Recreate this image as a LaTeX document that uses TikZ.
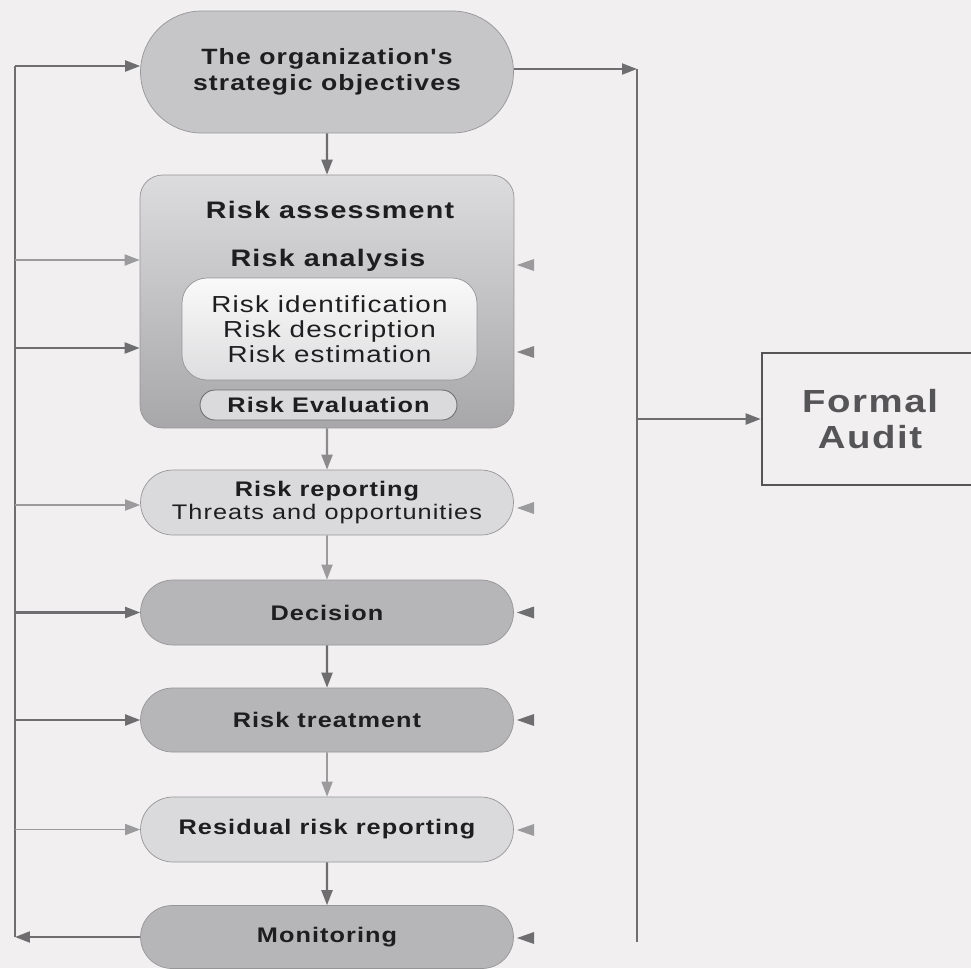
\documentclass[tikz,border=0pt]{standalone}
\usepackage{fontspec}
\setmainfont{Liberation Sans}[FakeStretch=1.2,LetterSpace=5,Ligatures=TeXOff]
\usetikzlibrary{arrows.meta,shapes.misc}
\definecolor{bg}{RGB}{241,239,240}
\definecolor{nodedark}{RGB}{182,181,183}
\definecolor{nodetop}{RGB}{198,197,199}
\definecolor{nodelight}{RGB}{218,217,219}
\definecolor{edgegray}{RGB}{150,150,152}
\definecolor{arrdark}{RGB}{110,110,112}
\definecolor{arrlight}{RGB}{155,155,157}
\definecolor{txt}{RGB}{30,30,32}
\definecolor{audittxt}{RGB}{85,85,87}
\begin{document}
\begin{tikzpicture}[x=0.02cm,y=-0.02cm,
  pill/.style={rounded rectangle, draw=edgegray, line width=0.4pt, minimum width=7.46cm,
    inner sep=0pt, text=txt, align=center, font=\bfseries\fontsize{12}{13.2}\selectfont},
  darkpill/.style={pill, fill=nodedark},
  lightpill/.style={pill, fill=nodelight},
  bigtext/.style={text=txt, font=\bfseries\fontsize{13.6}{15}\selectfont, inner sep=0pt},
  arrd/.style={draw=arrdark, line width=1.2pt, -{Triangle[length=3mm,width=2.2mm]}},
  arrl/.style={draw=arrlight, line width=1pt, -{Triangle[length=3mm,width=2.2mm]}},
  vline/.style={draw=arrdark, line width=1.2pt},
  lhead/.pic={\fill (0,0) -- (17,-6) -- (17,6) -- cycle;}
]
\clip (0,0) rectangle (971,968);
\fill[bg] (0,0) rectangle (971,968);

% main column
\node[pill, fill=nodetop, minimum height=2.44cm, font=\bfseries\fontsize{12.6}{14.7}\selectfont] (top) at (327,72)
  {The organization's\\strategic objectives};

\node[rounded corners=0.45cm, draw=edgegray, line width=0.4pt, top color=nodelight!95!white,
  bottom color=nodedark!92!black, minimum width=7.48cm, minimum height=5.06cm] (assess) at (327,301.5) {};
\node[bigtext] (atitle) at (330,210) {Risk assessment};
\node[bigtext] (aanal) at (328,260) {Risk analysis};
\node[rounded corners=0.5cm, draw=edgegray, line width=0.4pt, top color=white!85!nodelight,
  bottom color=nodelight!90!white, minimum width=5.9cm, minimum height=2.04cm, text=txt,
  align=center, font=\fontsize{13.2}{14.2}\selectfont] (inner) at (329.5,329)
  {Risk identification\\Risk description\\Risk estimation};
\node[rounded rectangle, draw=arrdark, line width=0.5pt, fill=nodelight, minimum width=5.14cm,
  minimum height=0.6cm, inner sep=0pt, text=txt, font=\bfseries\fontsize{12}{13}\selectfont]
  (eval) at (328.5,405) {Risk Evaluation};

\node[lightpill, minimum height=1.3cm] (report) at (327,502.5)
  {Risk reporting\\{\mdseries Threats and opportunities}};
\node[darkpill, minimum height=1.3cm] (decision) at (327,612.5) {Decision};
\node[darkpill, minimum height=1.28cm] (treat) at (327,720) {Risk treatment};
\node[lightpill, minimum height=1.3cm] (resid) at (327,829.5) {Residual risk reporting};
\node[darkpill, minimum height=1.26cm] (monitor) at (327,937) {Monitoring};

% formal audit
\node[draw=audittxt, line width=1.5pt, minimum width=4.32cm, minimum height=2.64cm, align=center,
  text=audittxt, font=\bfseries\fontsize{18.2}{20}\selectfont] (audit) at (870,419) {Formal\\Audit};

% downward connectors
\draw[arrd] (top) -- (assess);
\draw[arrd, draw=arrdark!80!white] (assess) -- (report);
\draw[arrl] (report) -- (decision);
\draw[arrd] (decision) -- (treat);
\draw[arrl] (treat) -- (resid);
\draw[arrd] (resid) -- (monitor);

% left feedback line
\coordinate (ltop) at (15,66);
\coordinate (lbot) at (15,937);
\draw[vline] (ltop) -- (lbot);
\coordinate (la1) at (15,260);
\coordinate (la2) at (15,348);
\coordinate (la3) at (15,505);
\coordinate (la4) at (15,612.5);
\coordinate (la5) at (15,720);
\coordinate (la6) at (15,829.5);
\draw[arrd] (ltop) -- (ltop -| top.west);
\draw[arrl] (la1) -- (la1 -| assess.west);
\draw[arrd] (la2) -- (la2 -| assess.west);
\draw[arrl] (la3) -- (la3 -| report.west);
\draw[arrd] (la4) -- (decision.west);
\draw[arrd] (la5) -- (treat.west);
\draw[arrl] (la6) -- (resid.west);
\draw[arrd] (monitor.west) -- (lbot);

% right line to audit
\coordinate (rtop) at (637,69);
\coordinate (rbot) at (637,942);
\coordinate (raud) at (637,419);
\draw[arrd] (rtop -| top.east) -- (rtop);
\draw[vline] (rtop) -- (rbot);
\draw[arrd] (raud) -- (audit.west);

% free arrowheads on the right
\pic[arrlight] at (517,265) {lhead};
\pic[arrdark!85!white] at (517,352) {lhead};
\pic[arrlight] at (517,508) {lhead};
\pic[arrdark] at (517,612.5) {lhead};
\pic[arrdark] at (517,720) {lhead};
\pic[arrlight] at (517,830) {lhead};
\pic[arrdark] at (517,938) {lhead};
\end{tikzpicture}
\end{document}
